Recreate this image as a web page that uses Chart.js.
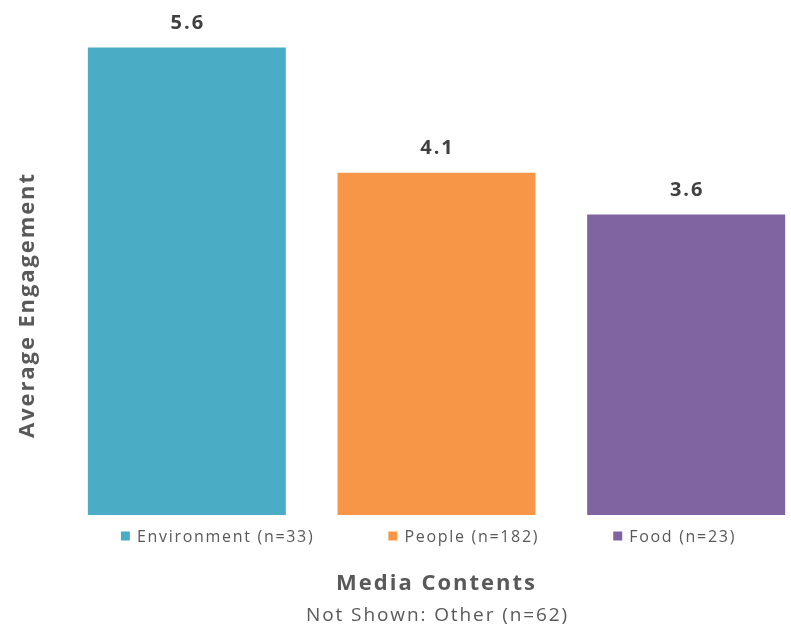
<!DOCTYPE html>
<html>
<head>
<meta charset="utf-8">
<script src="https://cdn.jsdelivr.net/npm/chart.js@4"></script>
<style>
  body { margin: 0; background: #fff; overflow: hidden; }
  .chart-box { width: 830px; height: 635px; }
</style>
</head>
<body>
<div class="chart-box"><canvas id="engagementChart"></canvas></div>
<script>
const categories = ['Environment (n=33)', 'People (n=182)', 'Food (n=23)'];
const engagement = [5.6, 4.1, 3.6];
const barColors = ['#4BACC6', '#F79646', '#8064A2'];
const yTitle = 'Average Engagement';
const xTitle = 'Media Contents';
const footNote = 'Not Shown: Other (n=62)';

const textColor = '#595959';
const fontFamily = "'Open Sans', sans-serif";

// numbers above the bars
const valueLabels = {
  id: 'valueLabels',
  afterDatasetsDraw(chart) {
    const ctx = chart.ctx;
    ctx.save();
    ctx.font = 'bold 20px ' + fontFamily;
    ctx.letterSpacing = '2px';
    ctx.fillStyle = '#404040';
    ctx.textAlign = 'center';
    ctx.textBaseline = 'middle';
    chart.getDatasetMeta(0).data.forEach((bar, i) => {
      ctx.fillText(engagement[i].toFixed(1), bar.x + 1, bar.y - 24);
    });
    ctx.restore();
  }
};

// legend row under the bars + axis titles + note
const extraText = {
  id: 'extraText',
  afterDraw(chart) {
    const ctx = chart.ctx;
    const area = chart.chartArea;
    const midX = (area.left + area.right) / 2;
    ctx.save();
    ctx.fillStyle = textColor;
    ctx.textBaseline = 'middle';

    // legend
    ctx.font = '16px ' + fontFamily;
    ctx.letterSpacing = '1.7px';
    const box = 9, gap = 74;
    const widths = categories.map(c => box + 7 + ctx.measureText(c).width);
    const total = widths.reduce((a, b) => a + b, 0) + gap * (categories.length - 1);
    let x = midX - 8 - total / 2;
    const legendY = area.bottom + 21;
    ctx.textAlign = 'left';
    categories.forEach((c, i) => {
      ctx.fillStyle = barColors[i];
      ctx.fillRect(x, legendY - box / 2, box, box);
      ctx.fillStyle = textColor;
      ctx.fillText(c, x + box + 7, legendY + 1);
      x += widths[i] + gap;
    });

    // x title and note
    ctx.textAlign = 'center';
    ctx.font = 'bold 22px ' + fontFamily;
    ctx.letterSpacing = '2px';
    ctx.fillText(xTitle, midX, 584);
    ctx.font = '19px ' + fontFamily;
    ctx.letterSpacing = '1.9px';
    ctx.fillText(footNote, midX + 1, 616);

    // y title
    ctx.translate(28, 305);
    ctx.rotate(-Math.PI / 2);
    ctx.font = 'bold 22px ' + fontFamily;
    ctx.letterSpacing = '1.9px';
    ctx.fillText(yTitle, 0, 0);
    ctx.restore();
  }
};

new Chart(document.getElementById('engagementChart'), {
  type: 'bar',
  data: {
    labels: categories,
    datasets: [{
      data: engagement,
      backgroundColor: barColors,
      borderWidth: 0,
      categoryPercentage: 1,
      barPercentage: 0.793
    }]
  },
  options: {
    responsive: true,
    maintainAspectRatio: false,
    animation: false,
    layout: {
      padding: { left: 62, right: 19, top: 14, bottom: 120 }
    },
    scales: {
      x: { display: false },
      y: { display: false, min: 0, max: 6 }
    },
    plugins: {
      legend: { display: false },
      tooltip: { enabled: false }
    }
  },
  plugins: [valueLabels, extraText]
});
</script>
</body>
</html>
